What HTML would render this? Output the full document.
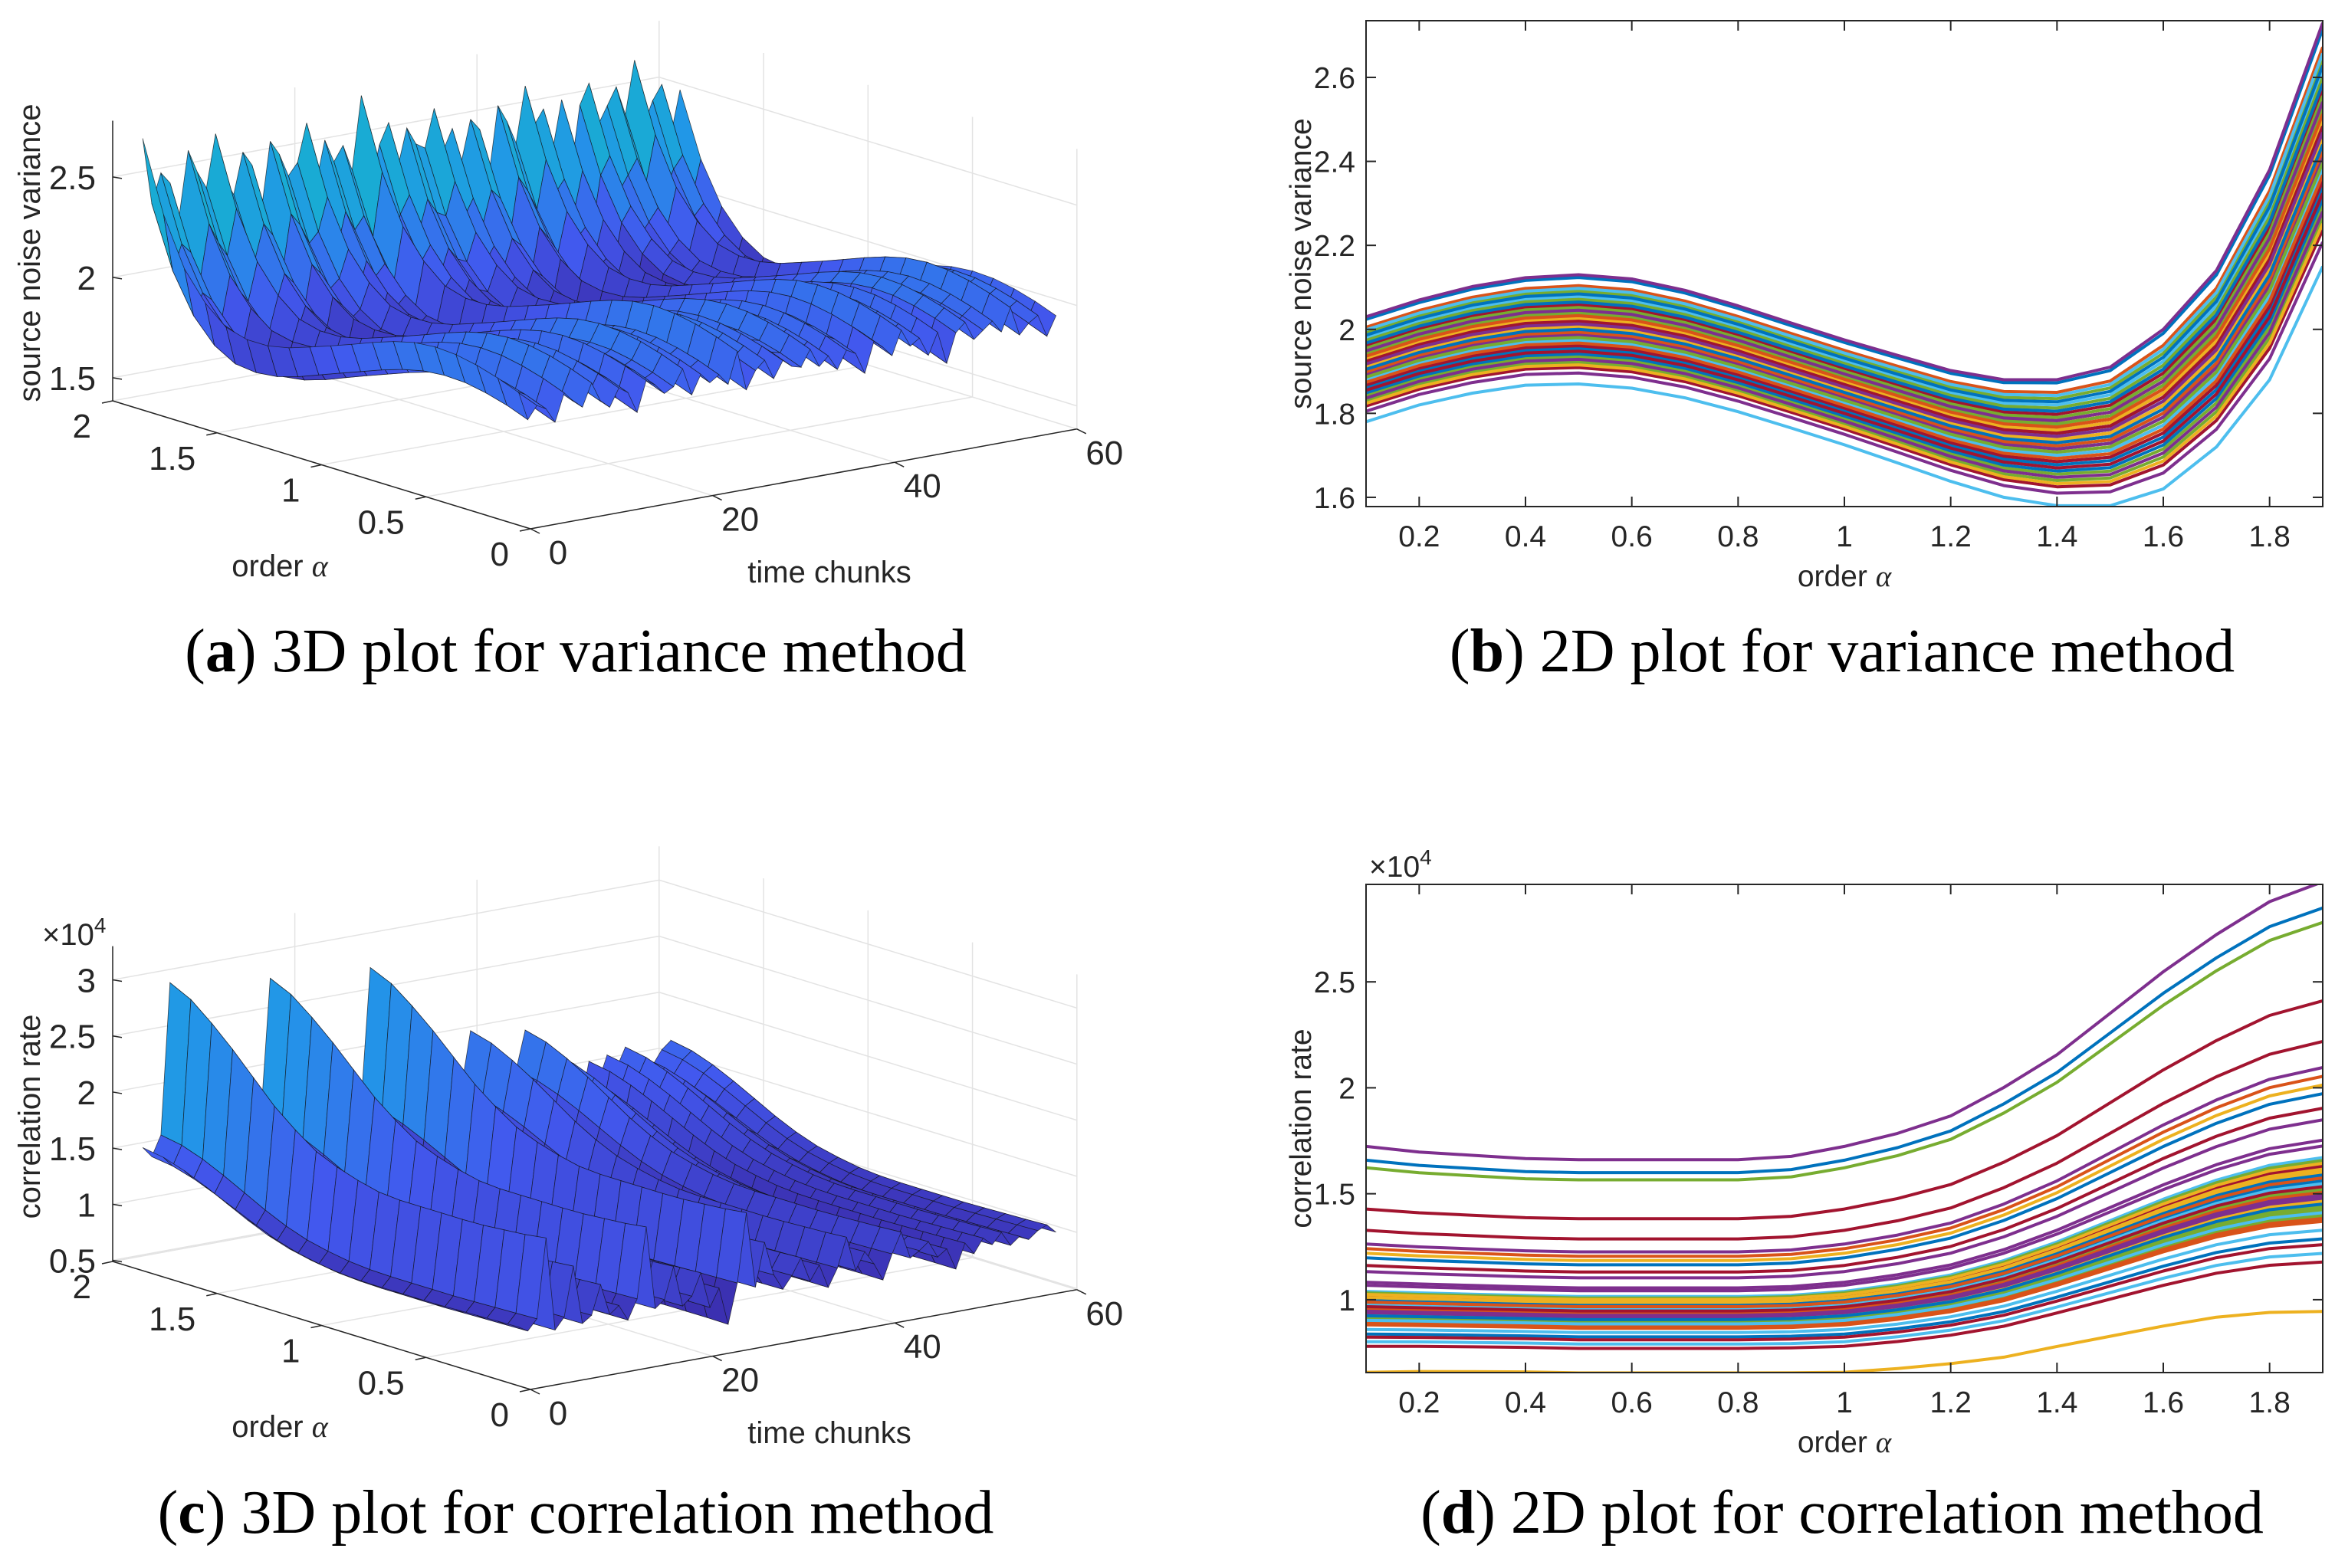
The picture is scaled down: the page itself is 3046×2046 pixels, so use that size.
<!DOCTYPE html>
<html><head><meta charset="utf-8">
<style>
html,body{margin:0;padding:0;background:#fff;}
svg{display:block;}
text{font-family:"Liberation Sans",sans-serif;fill:#262626;}
.cap{font-family:"Liberation Serif",serif;font-size:80px;fill:#000;}
</style></head>
<body>
<svg id="fig" width="3046" height="2046" viewBox="0 0 3046 2046" xmlns="http://www.w3.org/2000/svg">
<defs>
<clipPath id="clipB"><rect x="1782" y="27" width="1248" height="634"/></clipPath>
<clipPath id="clipD"><rect x="1782" y="1154" width="1248" height="637"/></clipPath>
</defs>
<g id="panelA"></g>
<g id="panelB"></g>
<g id="panelC"></g>
<g id="panelD"></g>
<text class="cap" x="751" y="876" text-anchor="middle">(<tspan font-weight="bold">a</tspan>) 3D plot for variance method</text>
<text class="cap" x="2403" y="876" text-anchor="middle">(<tspan font-weight="bold">b</tspan>) 2D plot for variance method</text>
<text class="cap" x="751" y="2000" text-anchor="middle">(<tspan font-weight="bold">c</tspan>) 3D plot for correlation method</text>
<text class="cap" x="2403" y="2000" text-anchor="middle">(<tspan font-weight="bold">d</tspan>) 2D plot for correlation method</text>
</svg>
<script>
// ---- data ----
const alphas = [0.1,0.2,0.3,0.4,0.5,0.6,0.7,0.8,0.9,1.0,1.1,1.2,1.3,1.4,1.5,1.6,1.7,1.8,1.9];
const varBase = [1.905,1.945,1.975,1.995,2.0,1.99,1.965,1.93,1.89,1.85,1.81,1.77,1.74,1.73,1.745,1.81,1.93,2.13,2.44];
const varSpread = [0.125,0.125,0.127,0.128,0.13,0.13,0.128,0.126,0.125,0.125,0.128,0.132,0.14,0.15,0.165,0.19,0.21,0.25,0.29];
const varOffsets = [0.95,-0.2,0.3,0.1,-0.5,0.6,0.2,-0.1,0.8,0.0,-0.3,0.4,0.15,-0.7,0.5,0.25,-0.15,0.05,0.7,-0.4,0.35,-0.05,0.2,-0.25,1.0,-0.6,0.1,0.45,-0.35,0.3,0.0,-0.1,0.55,-0.2,0.15,-0.45,0.25,0.05,-0.8,0.4,0.1,-0.3,0.65,-0.05,0.2,-0.55,0.3,-1.0,0.15,0.5,-0.25,0.05,0.35,-0.15,0.75,-0.4,0.0,0.25,-0.65,0.1];
const corrBase = [0.96,0.955,0.95,0.945,0.94,0.94,0.94,0.94,0.945,0.96,0.99,1.03,1.09,1.17,1.26,1.35,1.43,1.49,1.52];
const corrSpread = [0.72,0.70,0.69,0.68,0.68,0.68,0.68,0.68,0.69,0.72,0.75,0.79,0.86,0.93,1.03,1.13,1.22,1.31,1.37];
const corrOffsets = [0.02,-0.05,0.08,1.06,-0.1,0.04,0.65,-0.08,0.0,0.36,-0.03,0.06,-0.14,0.1,0.97,-0.06,0.03,0.42,-0.09,0.01,0.28,-0.17,0.05,-0.42,0.07,0.92,-0.02,0.51,0.09,-0.11,0.04,0.24,-0.07,0.11,-0.19,0.03,0.39,-0.04,0.17,0.0,-0.22,0.08,0.33,-0.01,0.06,0.15,-0.06,0.02,-0.25,0.05,-0.1,0.07,-0.03,0.1,-0.08,0.01,-0.05,0.04,0.09,-0.02];
const xTicks2D = [0.2,0.4,0.6,0.8,1,1.2,1.4,1.6,1.8];
const xTickLabels2D = ["0.2","0.4","0.6","0.8","1","1.2","1.4","1.6","1.8"];
const varYTicks = [1.6,1.8,2.0,2.2,2.4,2.6];
const varYTickLabels = ["1.6","1.8","2","2.2","2.4","2.6"];
const corrYTicks = [1,1.5,2,2.5];
const corrYTickLabels = ["1","1.5","2","2.5"];
const var3ZTicks = [1.5,2,2.5];
const var3ZTickLabels = ["1.5","2","2.5"];
const corr3ZTicks = [0.5,1,1.5,2,2.5,3];
const corr3ZTickLabels = ["0.5","1","1.5","2","2.5","3"];
const orderTicks = [0,0.5,1,1.5,2];
const orderTickLabels = ["0","0.5","1","1.5","2"];
const timeTicks = [0,20,40,60];
const timeTickLabels = ["0","20","40","60"];

const NS = "http://www.w3.org/2000/svg";
function mk(tag, attrs, parent){ const e=document.createElementNS(NS,tag); for(const k in attrs) e.setAttribute(k,attrs[k]); parent.appendChild(e); return e; }
const lineColors = ["#0072BD","#D95319","#EDB120","#7E2F8E","#77AC30","#4DBEEE","#A2142F"];

// ---- 2D panels ----
function draw2D(g, base, spread, offs, yTicks, yLabels, ymin, ymax, top, bottom, clip, ylabel, exp){
  const L=1782, R=3030;
  const xs = a => L + (a-0.1)/(1.8)*(R-L);
  const ys = v => bottom - (v-ymin)/(ymax-ymin)*(bottom-top);
  const lg = mk("g",{"clip-path":"url(#"+clip+")"},g);
  offs.forEach((o,j)=>{
    const pts = alphas.map((a,i)=> xs(a).toFixed(1)+","+ys(base[i]+o*spread[i]).toFixed(1)).join(" ");
    const pl = mk("polyline",{points:pts,fill:"none",stroke:lineColors[j%7],"stroke-width":4,"stroke-linejoin":"round"},lg);
    
    
  });
  const box = mk("rect",{x:L,y:top,width:R-L,height:bottom-top,fill:"none",stroke:"#262626","stroke-width":2},g);
  
  
  xTicks2D.forEach((t,i)=>{
    const x=xs(t);
    mk("line",{x1:x,x2:x,y1:bottom,y2:bottom-13,stroke:"#262626","stroke-width":2},g);
    mk("line",{x1:x,x2:x,y1:top,y2:top+13,stroke:"#262626","stroke-width":2},g);
    const tx = mk("text",{x:x,y:bottom+52,"text-anchor":"middle","font-size":39},g);
    tx.textContent = xTickLabels2D[i];
    
    
  });
  yTicks.forEach((t,i)=>{
    const y=ys(t);
    mk("line",{x1:L,x2:L+13,y1:y,y2:y,stroke:"#262626","stroke-width":2},g);
    mk("line",{x1:R,x2:R-13,y1:y,y2:y,stroke:"#262626","stroke-width":2},g);
    const tx = mk("text",{x:L-14,y:y+14,"text-anchor":"end","font-size":39},g);
    tx.textContent = yLabels[i];
    
    
  });
  const xl = mk("text",{x:2406,y:bottom+104,"text-anchor":"middle","font-size":39},g);
  xl.innerHTML = 'order <tspan font-style="italic" font-family="Liberation Serif">α</tspan>';
  
  
  const yl = mk("text",{x:0,y:0,"text-anchor":"middle","font-size":39,transform:"translate(1710,"+((top+bottom)/2)+") rotate(-90)"},g);
  yl.textContent = ylabel;
  
  
  if(exp){
    const ex = mk("text",{x:1786,y:top-10,"font-size":39},g);
    ex.innerHTML = '×10<tspan dy="-16" font-size="28">4</tspan>';
    
    
  }
}
draw2D(document.getElementById("panelB"), varBase, varSpread, varOffsets, varYTicks, varYTickLabels, 1.578, 2.735, 27, 661, "clipB", "source noise variance", false);
draw2D(document.getElementById("panelD"), corrBase, corrSpread, corrOffsets, corrYTicks, corrYTickLabels, 0.656, 2.96, 1154, 1791, "clipD", "correlation rate", true);

// ---- 3D panels ----
const ramp = [[0,[58,40,165]],[0.3,[66,88,238]],[0.6,[34,150,232]],[0.85,[22,178,205]],[1,[70,190,130]]];
function cmap(f){
  f=Math.max(0,Math.min(1,f));
  for(let k=1;k<ramp.length;k++){ if(f<=ramp[k][0]){ const [f0,c0]=ramp[k-1],[f1,c1]=ramp[k]; const u=(f-f0)/(f1-f0);
    return "rgb("+c0.map((c,i)=>Math.round(c+(c1[i]-c)*u)).join(",")+")"; } }
  return "rgb(70,190,130)";
}
function draw3D(g, P, base, spread, offs, zTicks, zLabels, ylabel, cmin, cmax, exp){
  const pr = (a,t,z)=>[P.ox + a*P.ax + t*P.tx, P.oy + a*P.ay + t*P.ty - (z-P.zmin)*P.zs];
  const gl = (p1,p2,col,w)=>mk("line",{x1:p1[0],y1:p1[1],x2:p2[0],y2:p2[1],stroke:col,"stroke-width":w},g);
  const grid="#e3e3e3";
  zTicks.forEach(z=>{ gl(pr(2,0,z),pr(2,60,z),grid,1.5); gl(pr(2,60,z),pr(0,60,z),grid,1.5); });
  timeTicks.forEach(t=>{ gl(pr(0,t,P.zmin),pr(2,t,P.zmin),grid,1.5); gl(pr(2,t,P.zmin),pr(2,t,P.zmax),grid,1.5); });
  orderTicks.forEach(a=>{ gl(pr(a,0,P.zmin),pr(a,60,P.zmin),grid,1.5); gl(pr(a,60,P.zmin),pr(a,60,P.zmax),grid,1.5); });
  gl(pr(2,0,P.zmin),pr(2,0,P.zmax),"#262626",1.5);
  gl(pr(0,0,P.zmin),pr(2,0,P.zmin),"#262626",1.5);
  gl(pr(0,0,P.zmin),pr(0,60,P.zmin),"#262626",1.5);
  const quads=[];
  for(let i=0;i<alphas.length-1;i++) for(let j=0;j<offs.length-1;j++){
    const z = (ii,jj)=> base[ii]+offs[jj]*spread[ii];
    const c=[[i,j],[i+1,j],[i+1,j+1],[i,j+1]];
    const zs=c.map(([ii,jj])=>z(ii,jj));
    const pts=c.map(([ii,jj],k)=>pr(alphas[ii],jj+1,zs[k]));
    const depth = P.oy + (alphas[i]+0.05)*P.ay + (j+1.5)*P.ty;
    quads.push({pts,zm:(zs[0]+zs[1]+zs[2]+zs[3])/4,depth});
  }
  quads.sort((a,b)=>a.depth-b.depth);
  const sg = mk("g",{},g);
  
  
  quads.forEach(q=>{
    const p = mk("polygon",{points:q.pts.map(p=>p[0].toFixed(1)+","+p[1].toFixed(1)).join(" "),fill:cmap((q.zm-cmin)/(cmax-cmin)),stroke:"#111","stroke-width":0.8,"stroke-opacity":0.7},sg);
    
    
  });
  zTicks.forEach((z,i)=>{
    const p=pr(2,0,z);
    gl(p,[p[0]+12,p[1]+2],"#262626",1.5);
    const tx=mk("text",{x:p[0]-22,y:p[1]+16,"text-anchor":"end","font-size":44},g);
    tx.textContent=zLabels[i];
    
    
  });
  orderTicks.forEach((a,i)=>{
    const p=pr(a,0,P.zmin);
    gl(p,[p[0]-14,p[1]+3],"#262626",1.5);
    const tx=mk("text",{x:p[0]-28,y:p[1]+48,"text-anchor":"end","font-size":44},g);
    tx.textContent=orderTickLabels[i];
    
    
  });
  timeTicks.forEach((t,i)=>{
    const p=pr(0,t,P.zmin);
    gl(p,[p[0]+12,p[1]+6],"#262626",1.5);
    const tx=mk("text",{x:p[0]+36,y:p[1]+46,"text-anchor":"middle","font-size":44},g);
    tx.textContent=timeTickLabels[i];
    
    
  });
  const ol=mk("text",{x:365,y:P.oy+62,"text-anchor":"middle","font-size":40},g);
  ol.innerHTML='order <tspan font-style="italic" font-family="Liberation Serif">α</tspan>';
  
  
  const tl=mk("text",{x:1082,y:P.oy+70,"text-anchor":"middle","font-size":40},g);
  tl.textContent='time chunks';
  
  
  const yl=mk("text",{x:0,y:0,"text-anchor":"middle","font-size":40,transform:"translate(52,"+P.ylabY+") rotate(-90)"},g);
  yl.textContent=ylabel;
  
  
  if(exp){
    const ex=mk("text",{x:55,y:P.oy-580,"font-size":40},g);
    ex.innerHTML='×10<tspan dy="-16" font-size="28">4</tspan>';
    
    
  }
}
draw3D(document.getElementById("panelA"), {ox:692,oy:690,ax:-272.5,ay:-83.5,tx:11.88,ty:-2.17,zmin:1.385,zs:262,zmax:2.78,ylabY:330}, varBase, varSpread, varOffsets, var3ZTicks, var3ZTickLabels, "source noise variance", 1.6, 2.6, false);
draw3D(document.getElementById("panelC"), {ox:692,oy:1813,ax:-272.5,ay:-83.5,tx:11.88,ty:-2.17,zmin:0.49,zs:146.4,zmax:3.3,ylabY:1457}, corrBase, corrSpread, corrOffsets, corr3ZTicks, corr3ZTickLabels, "correlation rate", 0.7, 3.2, true);
</script>
</body></html>
